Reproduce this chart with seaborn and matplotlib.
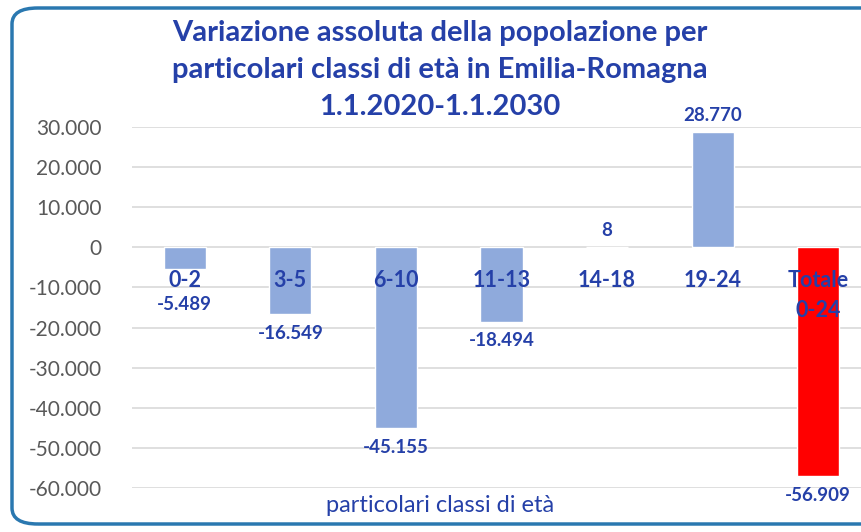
import matplotlib
matplotlib.use("Agg")
import matplotlib.pyplot as plt
from matplotlib.patches import FancyBboxPatch
import pandas as pd
import seaborn as sns

# dati
classi = ["0-2", "3-5", "6-10", "11-13", "14-18", "19-24", "Totale\n0-24"]
variazione = [-5489, -16549, -45155, -18494, 8, 28770, -56909]
colori = ["#8FAADC", "#8FAADC", "#8FAADC", "#8FAADC", "#8FAADC", "#8FAADC", "#FF0000"]
yticks = [30000, 20000, 10000, 0, -10000, -20000, -30000, -40000, -50000, -60000]

titolo = ["Variazione assoluta della popolazione per",
          "particolari classi di età in Emilia-Romagna",
          "1.1.2020-1.1.2030"]
xlab = "particolari classi di età"

BLU = "#2540A8"


def fmt(v):
    # separatore delle migliaia all'italiana
    return f"{v:,}".replace(",", ".")


sns.set_theme(style="white")
plt.rcParams["font.family"] = ["Lato", "DejaVu Sans"]

df = pd.DataFrame({"classe": classi, "val": variazione})

fig = plt.figure(figsize=(8.61, 5.32), dpi=100)
ax = fig.add_axes([132 / 861, 1 - 488 / 532, (871 - 132) / 861, (488 - 127) / 532])

sns.barplot(data=df, x="classe", y="val", hue="classe", palette=colori,
            legend=False, width=0.4, saturation=1, ax=ax, zorder=3)

ax.set_ylim(-60000, 30000)
ax.set_xlim(-0.5, len(classi) - 0.5)
ax.set_yticks(yticks)
ax.set_yticklabels([fmt(t) for t in yticks], color="#595959", fontsize=15)
ax.tick_params(axis="y", length=0, pad=22)
ax.set_xticks([])
ax.set_xlabel("")
ax.set_ylabel("")
ax.grid(axis="y", color="#D9D9D9", linewidth=1.2, zorder=0)
for s in ax.spines.values():
    s.set_visible(False)
ax.patch.set_alpha(0)

# etichette categorie sotto la linea dello zero
for i, c in enumerate(classi):
    ax.annotate(c, (i, 0), xytext=(0, -16), textcoords="offset points",
                ha="center", va="top", fontsize=15.5, fontweight="bold",
                color=BLU, linespacing=1.55, zorder=5)

# etichette valori
for i, v in enumerate(variazione):
    if v >= 0:
        off = 12
    elif v > -10000:
        off = -25
    else:
        off = -14
    ax.annotate(fmt(v), (i, v), xytext=(0, off), textcoords="offset points",
                ha="center", va="center", fontsize=13.5, fontweight="bold",
                color=BLU, zorder=5)

# titolo, una riga alla volta
for k, riga in enumerate(titolo):
    fig.text(440 / 861, 1 - (33 + 37 * k) / 532, riga, ha="center", va="center",
             fontsize=21, fontweight="bold", color=BLU)
fig.text(440 / 861, 1 - 505 / 532, xlab, ha="center", va="center",
         fontsize=17, color=BLU)

# cornice arrotondata
box = FancyBboxPatch((12 / 861, 8 / 532), 1.2, 1 - 16 / 532,
                     boxstyle="round,pad=0,rounding_size=0.03",
                     transform=fig.transFigure, fill=False,
                     edgecolor="#2A78B0", linewidth=2.5, zorder=0)
fig.patches.append(box)

fig.savefig("out.png", dpi=100)
